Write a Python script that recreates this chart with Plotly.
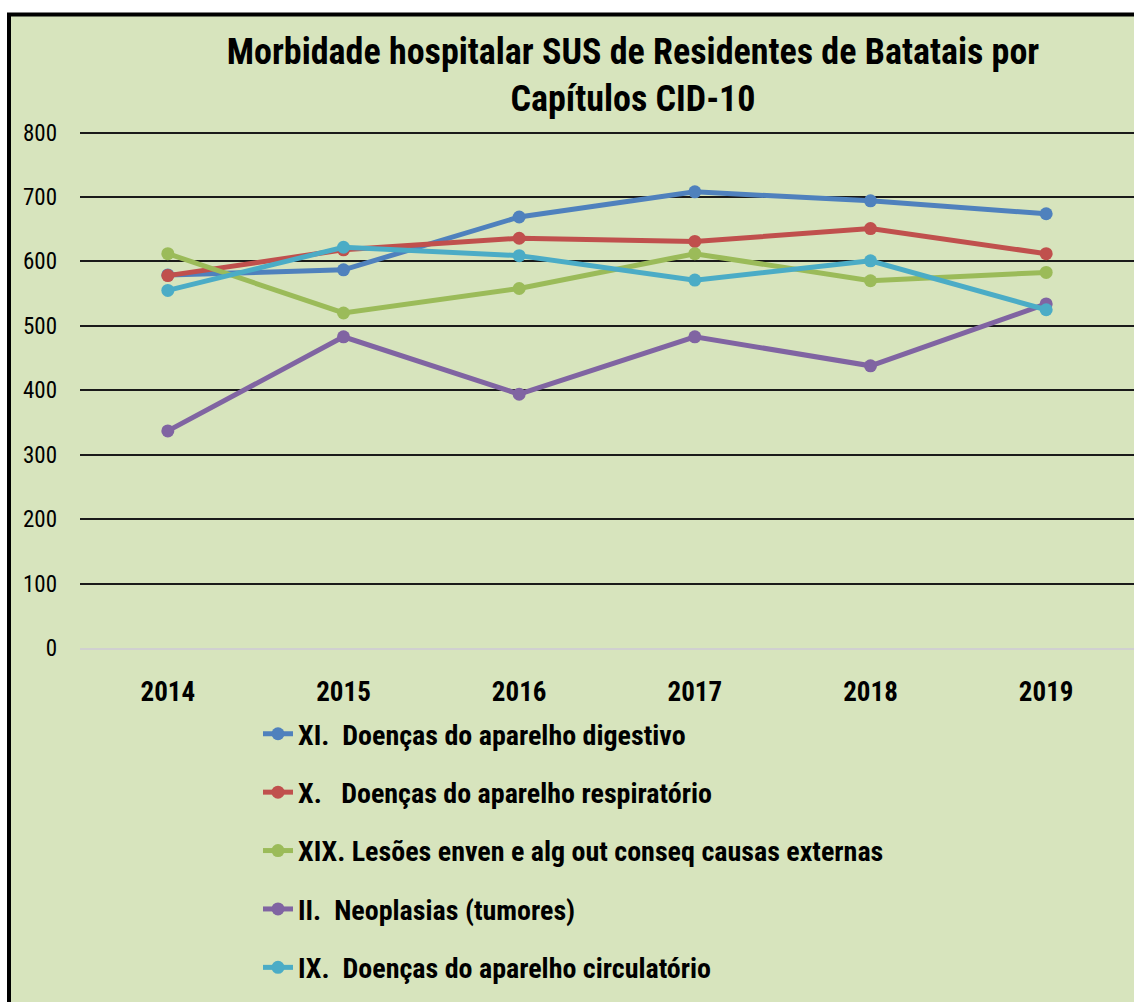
import plotly.graph_objects as go

years = ["2014", "2015", "2016", "2017", "2018", "2019"]
series_names = [
    "XI.  Doenças do aparelho digestivo",
    "X.   Doenças do aparelho respiratório",
    "XIX. Lesões enven e alg out conseq causas externas",
    "II.  Neoplasias (tumores)",
    "IX.  Doenças do aparelho circulatório",
]
digestivo = [579, 587, 669, 708, 694, 674]
respiratorio = [578, 618, 636, 631, 651, 612]
lesoes = [612, 520, 558, 612, 570, 583]
neoplasias = [337, 483, 394, 483, 438, 534]
circulatorio = [555, 622, 609, 571, 601, 525]
y_ticks = [0, 100, 200, 300, 400, 500, 600, 700, 800]

colors = ["#4F81BD", "#C0504D", "#9BBB59", "#8064A2", "#4BACC6"]
values = [digestivo, respiratorio, lesoes, neoplasias, circulatorio]

FONT = "Roboto Condensed, Liberation Sans Narrow, Arial Narrow, Liberation Sans, Arial, sans-serif"
OFF = 0  # body margin removed by post_script
W, H = 1134 - OFF, 1002 - OFF
ML = 80 - OFF
PB = 648 - OFF          # plot bottom (value 0)
scale = (648 - 133) / 800.0
YMAX = 804
PT = PB - YMAX * scale  # plot top
MT, MB, MR = PT, H - PB, 0
PW, PH = W - ML - MR, PB - PT

def px_x(p):
    return (p - OFF - ML) / PW

def px_y(p):
    return (PB - (p - OFF)) / PH

fig = go.Figure()
for i, (name, vals, col) in enumerate(zip(series_names, values, colors)):
    fig.add_trace(go.Scatter(
        x=years, y=vals, name="<b>" + name.replace("  ", "&nbsp; ") + "</b>",
        mode="lines+markers",
        line=dict(color=col, width=5),
        marker=dict(color=col, size=13),
        legendgroup=str(i),
    ))

fig.add_shape(type="rect", xref="paper", yref="paper",
              x0=px_x(9), x1=px_x(1134 + 20), y0=px_y(15), y1=px_y(1002 + 20),
              fillcolor="#D7E4BD", line=dict(color="black", width=4), layer="below")

fig.update_layout(
    width=W, height=H,
    margin=dict(l=ML, r=MR, t=MT, b=MB, autoexpand=False),
    paper_bgcolor="white",
    plot_bgcolor="rgba(0,0,0,0)",
    title=dict(
        text="<b>Morbidade hospitalar SUS de Residentes de Batatais por<br>Capítulos CID-10</b>",
        x=(633 - OFF) / W, xanchor="center", xref="container",
        y=1 - (64 - OFF) / H, yanchor="middle", yref="container",
        font=dict(family=FONT, size=36, color="black"),
    ),
    xaxis=dict(
        type="category", range=[-0.5, 5.5],
        showgrid=False, showline=True, linecolor="#D0D0D0", linewidth=2,
        tickfont=dict(family=FONT, size=27, color="black"),
        ticks="", ticklabelstandoff=19,
        tickprefix="<b>", ticksuffix="</b>",
    ),
    yaxis=dict(
        range=[0, YMAX], tickvals=y_ticks,
        showgrid=True, gridcolor="#1a1a1a", gridwidth=1.6,
        zeroline=False, showline=False,
        tickfont=dict(family=FONT, size=23, color="black"),
        ticks="", ticklabelstandoff=22,
    ),
    legend=dict(
        x=px_x(258), xanchor="left", y=px_y(709), yanchor="top",
        bgcolor="rgba(0,0,0,0)",
        font=dict(family=FONT, size=28, color="black"),
        tracegroupgap=19,
        traceorder="grouped",
    ),
    showlegend=True,
)

fig.write_html(
    "out.html",
    config={"displayModeBar": False},
    post_script="document.documentElement.style.overflow='hidden';"
                "document.body.style.margin='0';document.body.style.overflow='hidden';",
)
